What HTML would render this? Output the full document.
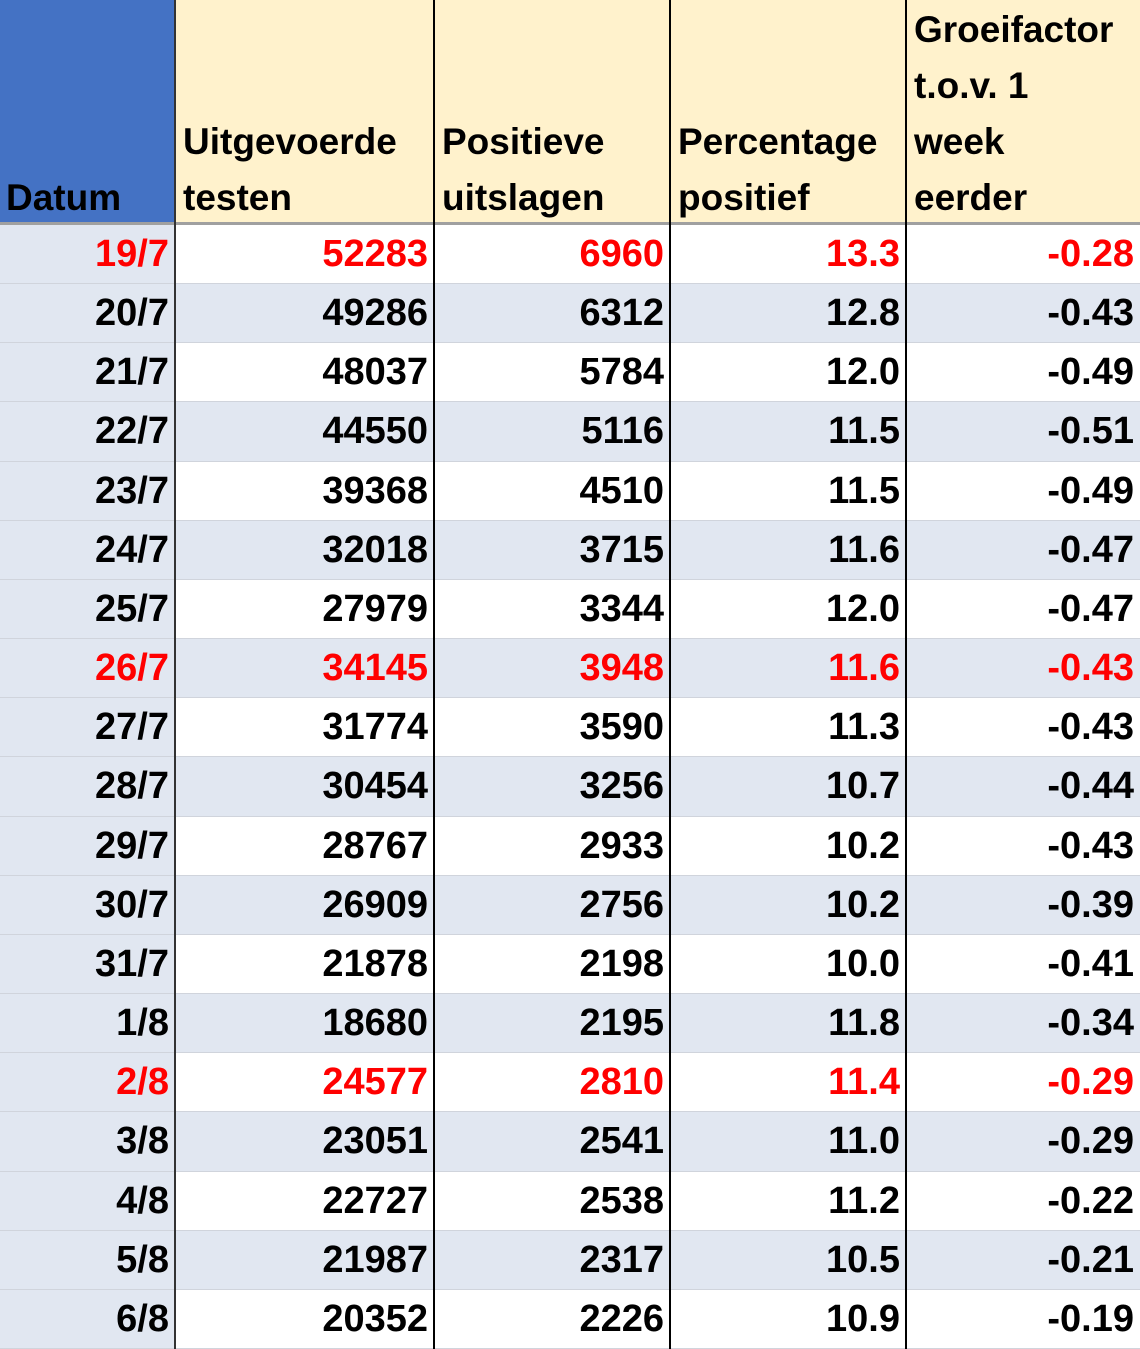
<!DOCTYPE html>
<html><head><meta charset="utf-8"><style>
body{margin:0;width:1140px;height:1349px;overflow:hidden;background:#fff;font-family:"Liberation Sans",sans-serif;font-weight:bold;}
#t{position:absolute;left:0;top:0;width:1140px;height:1349px;}
.c{position:absolute;box-sizing:border-box;white-space:nowrap;}
.h{background:#fff2cc;font-size:37px;line-height:56px;padding-left:8px;display:flex;flex-direction:column;justify-content:flex-end;padding-bottom:0px;}
.h>div{position:relative;top:3px;}
.d{font-size:38px;text-align:right;padding-right:6px;line-height:59px;border-bottom:1px solid #d0d4dc;}
.vl{position:absolute;top:0;width:2px;height:1349px;background:#000;}
</style></head><body>
<div id="t"></div>
<script>
const headers=["Datum","Uitgevoerde<br>testen","Positieve<br>uitslagen","Percentage<br>positief","Groeifactor<br>t.o.v. 1<br>week<br>eerder"];
const dates=["19/7","20/7","21/7","22/7","23/7","24/7","25/7","26/7","27/7","28/7","29/7","30/7","31/7","1/8","2/8","3/8","4/8","5/8","6/8"];
const tests=["52283","49286","48037","44550","39368","32018","27979","34145","31774","30454","28767","26909","21878","18680","24577","23051","22727","21987","20352"];
const positives=["6960","6312","5784","5116","4510","3715","3344","3948","3590","3256","2933","2756","2198","2195","2810","2541","2538","2317","2226"];
const percents=["13.3","12.8","12.0","11.5","11.5","11.6","12.0","11.6","11.3","10.7","10.2","10.2","10.0","11.8","11.4","11.0","11.2","10.5","10.9"];
const growth=["-0.28","-0.43","-0.49","-0.51","-0.49","-0.47","-0.47","-0.43","-0.43","-0.44","-0.43","-0.39","-0.41","-0.34","-0.29","-0.29","-0.22","-0.21","-0.19"];
const redRows=[0,7,14];
const colX=[0,175,434,670,906,1140];
const colNames=["date","tests","positives","percent","growth"];
const t=document.getElementById('t');
for(let c=0;c<5;c++){
  const h=document.createElement('div');
  h.className='c h';
  
  
  h.style.left=colX[c]+'px';h.style.top='0px';h.style.width=(colX[c+1]-colX[c])+'px';h.style.height='223px';
  if(c===0){h.style.background='#4472c4';h.style.paddingLeft='6px';}
  h.innerHTML='<div>'+headers[c]+'</div>';
  t.appendChild(h);
}
const hb=document.createElement('div');


hb.style.cssText='position:absolute;left:0;top:222px;width:1140px;height:3px;background:#a0a0a0;';
t.appendChild(hb);
const cols=[dates,tests,positives,percents,growth];
const rh=(1349-225)/19;
for(let r=0;r<19;r++){
  for(let c=0;c<5;c++){
    const d=document.createElement('div');
    d.className='c d';
    
    
    const top=225+r*rh;
    d.style.left=colX[c]+'px';d.style.top=top+'px';d.style.width=(colX[c+1]-colX[c])+'px';d.style.height=rh+'px';
    d.style.background=(c===0||r%2===1)?'#e1e7f1':'#ffffff';
    d.style.color=redRows.includes(r)?'#ff0000':'#000';
    d.textContent=cols[c][r];
    t.appendChild(d);
  }
}
for(let i=1;i<5;i++){
  const v=document.createElement('div');
  v.className='vl';
  
  
  v.style.left=(colX[i]-1)+'px';
  if(i===1){v.style.background='#333';}
  t.appendChild(v);
}
</script>
</body></html>
